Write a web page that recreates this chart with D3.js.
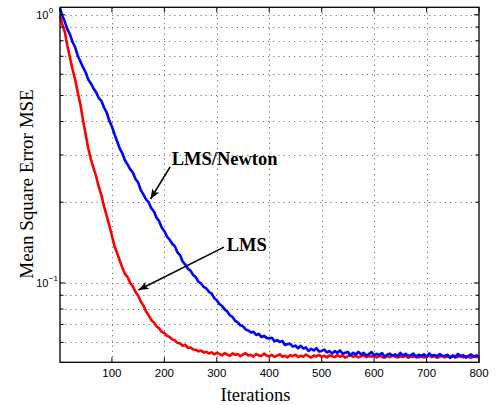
<!DOCTYPE html>
<html>
  <head>
    <script src="https://d3js.org/d3.v7.min.js"></script>
    <style>
      body { margin: 0; background: #fff; }
      svg { display: block; }
    </style>
  </head>
  <body>
    <svg width="497" height="405"></svg>
    <script>

      // iterations at which the MSE is sampled
      const iterations = [1,
        5, 10, 15, 20, 25, 30, 35, 40, 45, 50, 55, 60, 65, 70, 75, 80, 85, 90, 95, 100,
        105, 110, 115, 120, 125, 130, 135, 140, 145, 150, 155, 160, 165, 170, 175, 180, 185, 190, 195, 200,
        205, 210, 215, 220, 225, 230, 235, 240, 245, 250, 255, 260, 265, 270, 275, 280, 285, 290, 295, 300,
        305, 310, 315, 320, 325, 330, 335, 340, 345, 350, 355, 360, 365, 370, 375, 380, 385, 390, 395, 400,
        405, 410, 415, 420, 425, 430, 435, 440, 445, 450, 455, 460, 465, 470, 475, 480, 485, 490, 495, 500,
        505, 510, 515, 520, 525, 530, 535, 540, 545, 550, 555, 560, 565, 570, 575, 580, 585, 590, 595, 600,
        605, 610, 615, 620, 625, 630, 635, 640, 645, 650, 655, 660, 665, 670, 675, 680, 685, 690, 695, 700,
        705, 710, 715, 720, 725, 730, 735, 740, 745, 750, 755, 760, 765, 770, 775, 780, 785, 790, 795, 800];

      // LMS/Newton (blue)
      const lmsNewton = [1.059,
        0.997, 0.943, 0.884, 0.844, 0.791, 0.755, 0.702, 0.669, 0.636, 0.609,
        0.573, 0.554, 0.531, 0.513, 0.489, 0.477, 0.451, 0.432, 0.403, 0.383,
        0.358, 0.337, 0.317, 0.304, 0.286, 0.276, 0.265, 0.258, 0.244, 0.237,
        0.222, 0.214, 0.205, 0.200, 0.190, 0.185, 0.175, 0.170, 0.161, 0.156,
        0.149, 0.145, 0.140, 0.137, 0.130, 0.127, 0.120, 0.117, 0.113, 0.111,
        0.107, 0.105, 0.101, 0.0996, 0.0966, 0.0954, 0.0926, 0.0914, 0.0879, 0.0861,
        0.0835, 0.0821, 0.0797, 0.0783, 0.0757, 0.0747, 0.0722, 0.0713, 0.0695, 0.0689,
        0.0671, 0.0665, 0.0654, 0.0657, 0.0640, 0.0646, 0.0629, 0.0635, 0.0624, 0.0621,
        0.0625, 0.0606, 0.0612, 0.0603, 0.0608, 0.0587, 0.0592, 0.0593, 0.0579, 0.0584,
        0.0571, 0.0583, 0.0570, 0.0575, 0.0558, 0.0568, 0.0560, 0.0571, 0.0555, 0.0558,
        0.0564, 0.0551, 0.0557, 0.0546, 0.0557, 0.0549, 0.0560, 0.0545, 0.0549, 0.0553,
        0.0537, 0.0549, 0.0541, 0.0553, 0.0542, 0.0549, 0.0536, 0.0543, 0.0552, 0.0537,
        0.0544, 0.0539, 0.0548, 0.0531, 0.0540, 0.0545, 0.0535, 0.0542, 0.0533, 0.0549,
        0.0536, 0.0544, 0.0534, 0.0538, 0.0545, 0.0528, 0.0540, 0.0535, 0.0542, 0.0530,
        0.0546, 0.0535, 0.0539, 0.0532, 0.0543, 0.0533, 0.0535, 0.0540, 0.0526, 0.0537,
        0.0530, 0.0544, 0.0532, 0.0538, 0.0527, 0.0535, 0.0541, 0.0530, 0.0537, 0.0533];

      // LMS (red)
      const lms = [0.989,
        0.927, 0.866, 0.768, 0.693, 0.625, 0.573, 0.511, 0.463, 0.403, 0.358,
        0.317, 0.289, 0.268, 0.249, 0.228, 0.212, 0.193, 0.178, 0.164, 0.150,
        0.137, 0.129, 0.121, 0.114, 0.108, 0.105, 0.100, 0.0970, 0.0926, 0.0898,
        0.0853, 0.0825, 0.0783, 0.0757, 0.0728, 0.0713, 0.0689, 0.0677, 0.0657, 0.0651,
        0.0635, 0.0629, 0.0616, 0.0611, 0.0598, 0.0595, 0.0583, 0.0588, 0.0573, 0.0575,
        0.0565, 0.0563, 0.0556, 0.0560, 0.0551, 0.0553, 0.0546, 0.0551, 0.0542, 0.0549,
        0.0544, 0.0537, 0.0548, 0.0541, 0.0535, 0.0546, 0.0539, 0.0543, 0.0533, 0.0541,
        0.0547, 0.0536, 0.0540, 0.0531, 0.0543, 0.0537, 0.0534, 0.0545, 0.0536, 0.0532,
        0.0539, 0.0530, 0.0536, 0.0542, 0.0531, 0.0535, 0.0528, 0.0538, 0.0533, 0.0540,
        0.0529, 0.0535, 0.0531, 0.0541, 0.0534, 0.0527, 0.0536, 0.0532, 0.0539, 0.0530,
        0.0535, 0.0528, 0.0537, 0.0533, 0.0529, 0.0538, 0.0531, 0.0536, 0.0526, 0.0534,
        0.0539, 0.0530, 0.0535, 0.0528, 0.0533, 0.0537, 0.0529, 0.0534, 0.0531, 0.0536,
        0.0528, 0.0535, 0.0530, 0.0526, 0.0534, 0.0529, 0.0537, 0.0531, 0.0527, 0.0533,
        0.0529, 0.0535, 0.0526, 0.0532, 0.0530, 0.0536, 0.0528, 0.0533, 0.0527, 0.0531,
        0.0536, 0.0529, 0.0533, 0.0526, 0.0531, 0.0535, 0.0528, 0.0532, 0.0529, 0.0534,
        0.0527, 0.0531, 0.0536, 0.0528, 0.0533, 0.0530, 0.0526, 0.0534, 0.0529, 0.0532];

      const xTicks = [100, 200, 300, 400, 500, 600, 700, 800];
      const yMajor = [0.1, 1];
      const yMinor = [0.06, 0.07, 0.08, 0.09, 0.2, 0.3, 0.4, 0.5, 0.6, 0.7, 0.8, 0.9];

      // annotations in data units: text position, arrow tail, arrow tip
      const notes = [
        {label: "LMS/Newton", tx: 214, ty: 0.275, x1: 211, y1: 0.271, x2: 173.6, y2: 0.2056},
        {label: "LMS", tx: 319, ty: 0.1316, x1: 313.7, y1: 0.136, x2: 150.7, y2: 0.0942}
      ];

      const plotL = 60, plotR = 479, plotT = 7.3, plotB = 362.3;

      const svg = d3.select('svg');

      const x = d3.scaleLinear().domain([1, 800]).range([plotL, plotR]);
      const y = d3.scaleLog().domain([0.0506, 1.066]).range([plotB, plotT]);

      // grid
      const grid = svg.append('g')
          .attr('stroke', '#666')
          .attr('stroke-width', 0.9)
          .attr('stroke-dasharray', '1.2,4');

      grid.selectAll('.gx')
        .data(xTicks.filter(t => t < 800))
        .enter()
        .append('line')
        .attr('x1', d => Math.round(x(d)) + 0.5)
        .attr('x2', d => Math.round(x(d)) + 0.5)
        .attr('y1', plotB)
        .attr('y2', plotT);

      grid.selectAll('.gy')
        .data(yMajor.concat(yMinor))
        .enter()
        .append('line')
        .attr('x1', plotL)
        .attr('x2', plotR)
        .attr('y1', d => Math.round(y(d)) + 0.5)
        .attr('y2', d => Math.round(y(d)) + 0.5);

      // curves
      const line = (vals) => d3.line()
          .x((d, i) => x(iterations[i]))
          .y(d => y(d))(vals);

      svg.append('path')
        .attr('d', line(lms))
        .attr('fill', 'none')
        .attr('stroke', '#ff0000')
        .attr('stroke-width', 2.6)
        .attr('stroke-linejoin', 'round');

      svg.append('path')
        .attr('d', line(lmsNewton))
        .attr('fill', 'none')
        .attr('stroke', '#0000ff')
        .attr('stroke-width', 2.6)
        .attr('stroke-linejoin', 'round');

      // axes box + inward ticks
      const axes = svg.append('g').attr('stroke', '#000').attr('stroke-width', 1);

      axes.append('rect')
        .attr('x', plotL).attr('y', plotT)
        .attr('width', plotR - plotL).attr('height', plotB - plotT)
        .attr('fill', 'none')
        .attr('stroke-width', 1.3);

      const tl = 5;
      xTicks.forEach(t => {
        axes.append('line').attr('x1', x(t)).attr('x2', x(t)).attr('y1', plotB).attr('y2', plotB - tl);
        axes.append('line').attr('x1', x(t)).attr('x2', x(t)).attr('y1', plotT).attr('y2', plotT + tl);
      });
      yMajor.concat(yMinor).forEach(t => {
        const len = yMajor.includes(t) ? tl : 3.5;
        axes.append('line').attr('x1', plotL).attr('x2', plotL + len).attr('y1', y(t)).attr('y2', y(t));
        axes.append('line').attr('x1', plotR).attr('x2', plotR - len).attr('y1', y(t)).attr('y2', y(t));
      });

      // tick labels
      svg.selectAll('.xl')
        .data(xTicks)
        .enter()
        .append('text')
        .attr('x', d => x(d))
        .attr('y', 376.5)
        .attr('text-anchor', 'middle')
        .style('font-family', '"Liberation Sans", Arial, sans-serif')
        .style('font-size', '11.5px')
        .text(d => d);

      const expo = {1: '0', 0.1: '\u22121'};
      yMajor.forEach(t => {
        svg.append('text')
          .attr('x', 48.5)
          .attr('y', y(t) + 4.5)
          .attr('text-anchor', 'end')
          .style('font-family', '"Liberation Sans", Arial, sans-serif')
          .style('font-size', '11px')
          .text('10');
        svg.append('text')
          .attr('x', 48.8)
          .attr('y', y(t) - 1.5)
          .style('font-family', '"Liberation Sans", Arial, sans-serif')
          .style('font-size', '8px')
          .text(expo[t]);
      });

      // axis titles
      svg.append('text')
        .attr('x', 255.5)
        .attr('y', 401)
        .attr('text-anchor', 'middle')
        .style('font-family', '"Liberation Serif", "Times New Roman", serif')
        .style('font-size', '18.5px')
        .text('Iterations');

      svg.append('text')
        .attr('transform', 'translate(33,184) rotate(-90)')
        .attr('text-anchor', 'middle')
        .style('font-family', '"Liberation Serif", "Times New Roman", serif')
        .style('font-size', '19px')
        .text('Mean Square Error MSE');

      // arrows
      svg.append('defs').append('marker')
        .attr('id', 'head')
        .attr('markerUnits', 'userSpaceOnUse')
        .attr('markerWidth', 11)
        .attr('markerHeight', 8)
        .attr('refX', 10)
        .attr('refY', 4)
        .attr('orient', 'auto')
        .append('path')
        .attr('d', 'M0,0 L10,4 L0,8 L2.5,4 Z')
        .attr('fill', '#000');

      notes.forEach(n => {
        svg.append('line')
          .attr('x1', x(n.x1)).attr('y1', y(n.y1))
          .attr('x2', x(n.x2)).attr('y2', y(n.y2))
          .attr('stroke', '#000')
          .attr('stroke-width', 1.6)
          .attr('marker-end', 'url(#head)');
        svg.append('text')
          .attr('x', x(n.tx))
          .attr('y', y(n.ty))
          .style('font-family', '"Liberation Serif", "Times New Roman", serif')
          .style('font-size', '18.5px')
          .style('font-weight', 'bold')
          .text(n.label);
      });

    </script>
  </body>
</html>
